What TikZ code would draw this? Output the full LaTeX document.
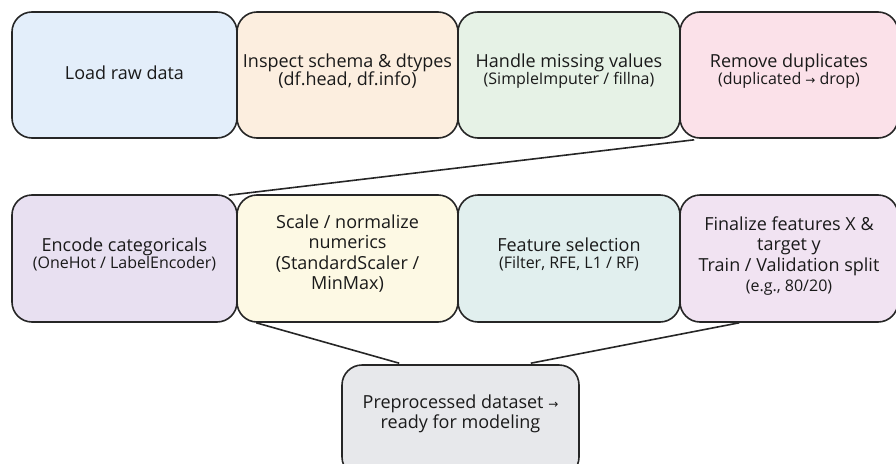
\documentclass[tikz,border=0pt]{standalone}
\usepackage{fontspec}
\setmainfont{Open Sans}
\newfontfamily\arrowfont{DejaVu Sans}
\usetikzlibrary{calc,backgrounds}
\definecolor{cA}{HTML}{E3EEFA}
\definecolor{cB}{HTML}{FCEEDF}
\definecolor{cC}{HTML}{E6F2E6}
\definecolor{cD}{HTML}{FBE1E9}
\definecolor{cE}{HTML}{E8E0F1}
\definecolor{cF}{HTML}{FDF9E4}
\definecolor{cG}{HTML}{E1EFEE}
\definecolor{cH}{HTML}{F1E3F2}
\definecolor{cI}{HTML}{E7E8EB}
\definecolor{txt}{HTML}{1A1A1A}
\newcommand{\rarr}{{\arrowfont\fontsize{12}{12}\selectfont →}}
\tikzset{
  stepbox/.style={draw=black!85, line width=1.6pt, rounded corners=20pt},
  steptext/.style={align=center, text=txt, font=\fontsize{18}{20.5}\selectfont, inner sep=0pt},
  link/.style={draw=black!85, line width=1.6pt}
}
\newcommand{\subt}[1]{{\fontsize{16}{19}\selectfont #1}}
\begin{document}
\begin{tikzpicture}[x=1pt,y=1pt]
\useasboundingbox (0,0) rectangle (896,-463);
% boxes
\node[stepbox, fill=cA, minimum width=225pt, minimum height=126pt] (load) at (124.5,-75) {};
\node[stepbox, fill=cB, minimum width=221pt, minimum height=126pt] (insp) at (347.5,-75) {};
\node[stepbox, fill=cC, minimum width=222pt, minimum height=126pt] (miss) at (569,-75) {};
\node[stepbox, fill=cD, minimum width=218pt, minimum height=126pt] (dup) at (789,-75) {};
\node[stepbox, fill=cE, minimum width=225pt, minimum height=127pt] (enc) at (124.5,-258.5) {};
\node[stepbox, fill=cF, minimum width=221pt, minimum height=127pt] (scale) at (347.5,-258.5) {};
\node[stepbox, fill=cG, minimum width=222pt, minimum height=127pt] (feat) at (569,-258.5) {};
\node[stepbox, fill=cH, minimum width=218pt, minimum height=127pt] (fin) at (789,-258.5) {};
\node[stepbox, fill=cI, minimum width=237pt, minimum height=112pt] (prep) at (460.5,-421) {};
% texts
\node[steptext] (loadt) at ([yshift=2pt]load.center) {Load raw data};
\node[steptext] (inspt) at ([yshift=4pt]insp.center) {Inspect schema \& dtypes\\[-3pt](df.head, df.info)};
\node[steptext] (misst) at ([yshift=4pt]miss.center) {Handle missing values\\[-3pt]\subt{(SimpleImputer / fillna)}};
\node[steptext] (dupt) at ([yshift=4pt]dup.center) {Remove duplicates\\[-3pt]\subt{(duplicated \rarr\ drop)}};
\node[steptext] (enct) at ([yshift=4pt]enc.center) {Encode categoricals\\[-4pt]\subt{(OneHot / LabelEncoder)}};
\node[steptext] (scalet) at ([yshift=5pt]scale.center) {Scale / normalize\\numerics\\(StandardScaler /\\MinMax)};
\node[steptext] (featt) at ([yshift=4pt]feat.center) {Feature selection\\[-4pt]\subt{(Filter, RFE, L1 / RF)}};
\node[steptext] (fint) at ([yshift=2.5pt]fin.center) {Finalize features X \&\\target y\\Train / Validation split\\\subt{(e.g., 80/20)}};
\node[steptext] (prept) at ([yshift=7pt]prep.center) {Preprocessed dataset \rarr\\ready for modeling};
\begin{pgfonlayer}{background}
\draw[link] ($(dup.south west)+(15,-1)$) -- ($(enc.north east)+(-9,-1)$);
\draw[link] ($(scale.south west)+(20,0)$) -- ($(prep.north west)+(58,1)$);
\draw[link] ($(fin.south west)+(60,0)$) -- ($(prep.north east)+(-49,1)$);
\end{pgfonlayer}
\end{tikzpicture}
\end{document}
